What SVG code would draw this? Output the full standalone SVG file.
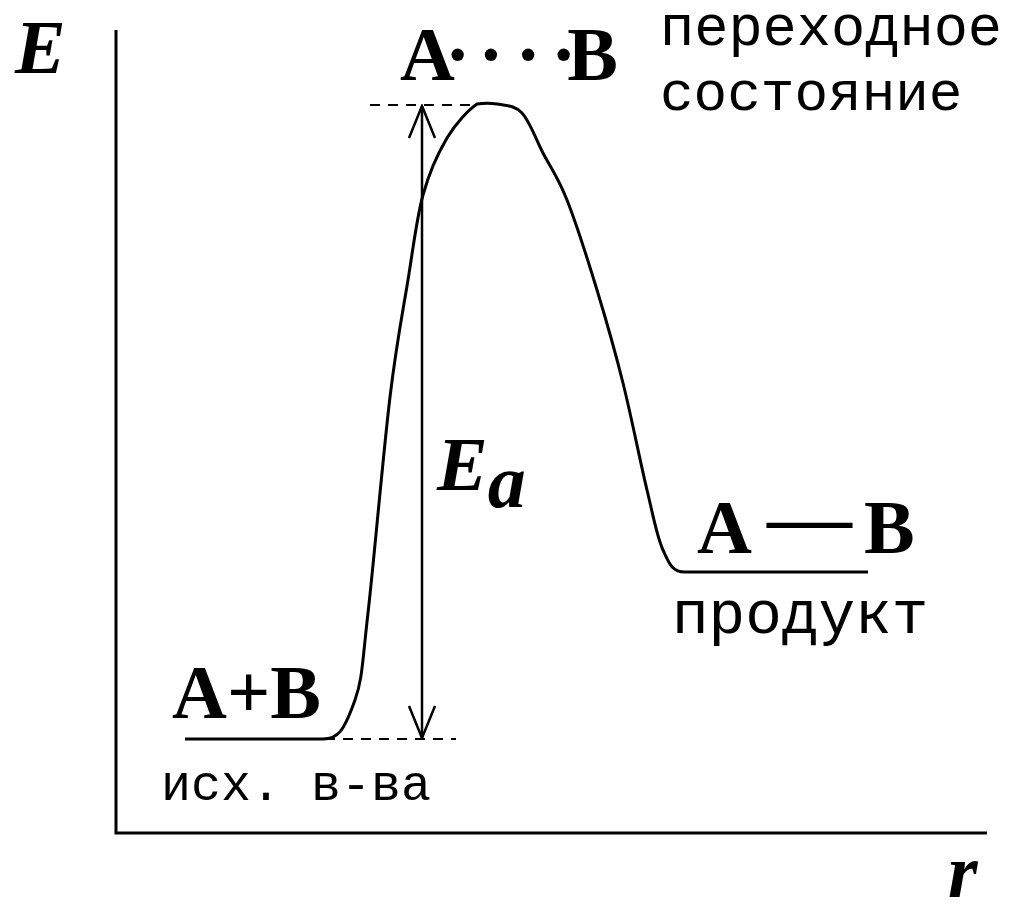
<svg xmlns="http://www.w3.org/2000/svg" width="1012" height="905" viewBox="0 0 1012 905">
<style>
.ser{font-family:"Liberation Serif","Times New Roman",serif;font-weight:bold;font-size:76px;fill:#000}
.it{font-style:italic}
.mono{font-family:"Liberation Mono","Courier New",monospace;fill:#000}
.ln{fill:none;stroke:#000;stroke-width:3}
.dash{fill:none;stroke:#000;stroke-width:2;stroke-dasharray:10 8}
</style>
<defs>
<marker id="ah" viewBox="0 0 40 30" refX="38" refY="15" markerWidth="40" markerHeight="30" markerUnits="userSpaceOnUse" orient="auto-start-reverse">
<path d="M6,2 L38,15 L6,28" fill="none" stroke="#000" stroke-width="2.5"/>
</marker>
</defs>
<rect width="1012" height="905" fill="#fff"/>
<g id="axes">
<path class="ln" d="M116,30 L116,833 L987,833"/>
<text class="ser it" x="15" y="73">E</text>
<text class="ser it" x="948" y="897">r</text>
</g>
<g id="curve">
<path class="ln" stroke-linejoin="round" d="M185,739 L323,739 C338,739 344,731 355,700 C362.5,679 362.2,663.5 368,613 C373.8,562.5 383.3,452.5 390,397 C396.7,341.5 402.5,313.7 408,280 C413.5,246.3 416.5,218.7 423,195 C429.5,171.3 438,153.2 447,138 C456,122.8 468.7,109.7 477,104 C484,103 491,103 497,104 C504.5,105.5 514.3,104.8 522,113 C529.7,121.2 535.5,138.5 543,153 C550.5,167.5 558,177.2 567,200 C576,222.8 587.7,259.5 597,290 C606.3,320.5 614.7,349.7 623,383 C631.3,416.3 640.3,462.2 647,490 C653.7,517.8 656.7,536.3 663,550 C669.3,563.7 672,572 685,572 L868,572"/>
</g>
<g id="connectors">
<path class="dash" d="M370,105 L472,105"/>
<path class="dash" d="M325,739 L456,739"/>
<path d="M422,106 L422,738" fill="none" stroke="#000" stroke-width="2.5" marker-start="url(#ah)" marker-end="url(#ah)"/>
</g>
<g id="reactants">
<text class="ser" x="172" y="718">A+B</text>
<text class="mono" x="161" y="800" font-size="50">исх. в-ва</text>
</g>
<g id="transition">
<text class="ser" x="400" y="80">A<tspan dx="-10">·</tspan><tspan dx="8">·</tspan><tspan dx="12">·</tspan><tspan dx="10">·</tspan><tspan dx="-9">B</tspan></text>
<text class="mono" x="660" y="45" font-size="57">переходное</text>
<text class="mono" x="660" y="110" font-size="56">состояние</text>
</g>
<g id="activation">
<text class="ser it" x="437" y="490">E<tspan dy="17">a</tspan></text>
</g>
<g id="product">
<text class="ser" y="553"><tspan x="697">A</tspan><tspan x="767" dy="-10" textLength="85" lengthAdjust="spacingAndGlyphs">—</tspan><tspan x="864" dy="10">B</tspan></text>
<text class="mono" x="672" y="633" font-size="61">продукт</text>
</g>
</svg>
